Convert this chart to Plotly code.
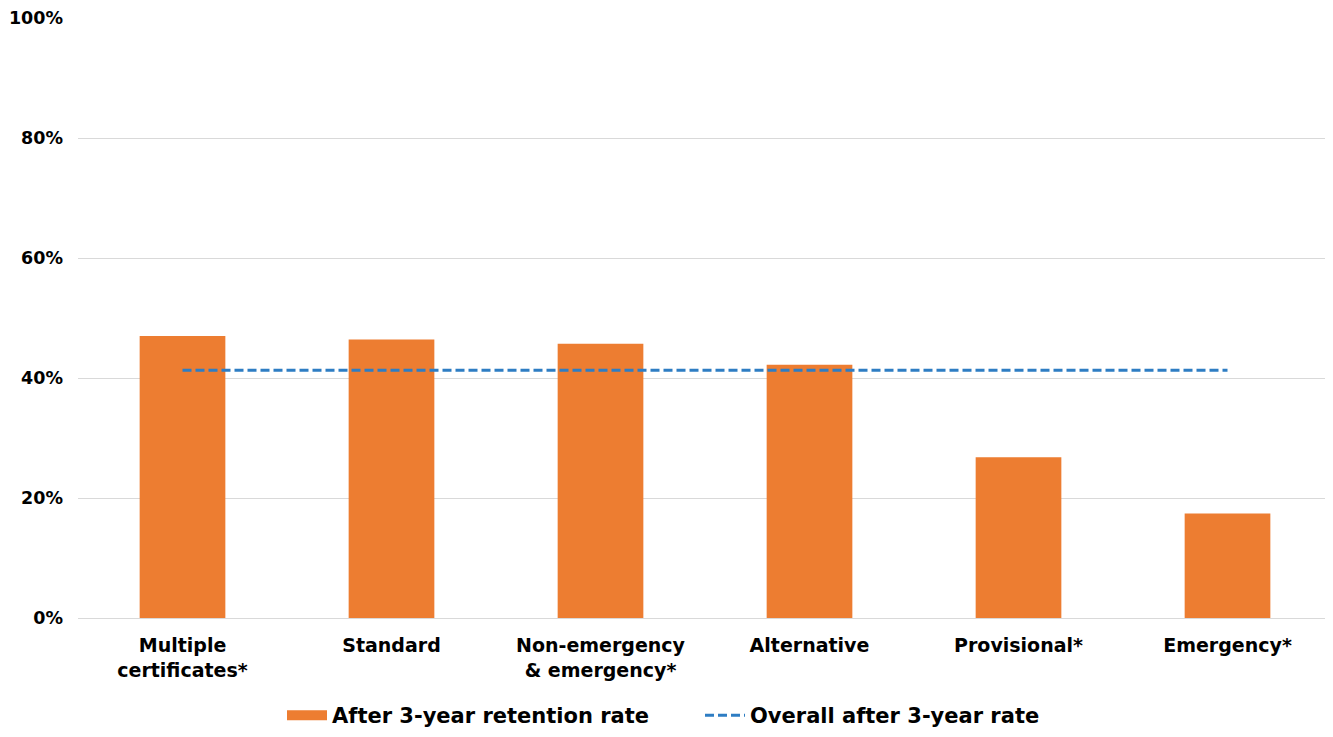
import plotly.graph_objects as go

# certificate types and retention rates
categories = ["Multiple<br>certificates*", "Standard", "Non-emergency<br>& emergency*",
              "Alternative", "Provisional*", "Emergency*"]
retention = [0.47, 0.464, 0.457, 0.422, 0.268, 0.174]
overall = [0.413] * len(categories)

y_ticks = [0, 0.2, 0.4, 0.6, 0.8, 1.0]
y_tick_labels = ["0%", "20%", "40%", "60%", "80%", "100%"]

bar_color = "#ED7D31"
line_color = "#2E7DC3"
font_name = "DejaVu Sans"

# page body adds an 8px margin, so the figure is 16px smaller than the window
W, H = 1317, 721

fig = go.Figure()

fig.add_trace(go.Bar(x=categories, y=retention, showlegend=False,
                     marker=dict(color=bar_color, line=dict(width=0))))

# legend entry for the bars, drawn as a wide swatch like the original
fig.add_trace(go.Scatter(x=[None], y=[None], mode="lines",
                         name="<b>After 3-year retention rate</b>",
                         line=dict(color=bar_color, width=14)))

fig.add_trace(go.Scatter(x=categories, y=overall, mode="lines",
                         name="<b>Overall after 3-year rate</b>",
                         line=dict(color=line_color, width=3, dash="9px,4px")))

fig.update_layout(width=W, height=H,
                  margin=dict(l=70, r=0, t=10, b=111, autoexpand=False),
                  plot_bgcolor="white", paper_bgcolor="white",
                  bargap=0.59,
                  font=dict(family=font_name, size=19, color="black"),
                  legend=dict(orientation="h", x=(274 - 70) / (W - 70), xanchor="left",
                              y=-0.1283, yanchor="top",
                              font=dict(size=21, color="black"),
                              itemwidth=40, traceorder="normal",
                              entrywidth=363, entrywidthmode="pixels"),
                  xaxis=dict(tickfont=dict(size=19), showline=False,
                             range=[-0.5, -0.5 + (W - 70) / 209.0],
                             ticks="", ticklabelstandoff=14, automargin=False),
                  yaxis=dict(range=[0, 1], tickvals=y_ticks,
                             ticktext=["<b>%s</b>" % t for t in y_tick_labels],
                             showgrid=True, gridcolor="#D9D9D9", gridwidth=1,
                             zeroline=True, zerolinecolor="#D9D9D9", zerolinewidth=1,
                             tickfont=dict(size=17.5), ticklabelstandoff=14,
                             ticklabeloverflow="allow", automargin=False))

fig.update_xaxes(ticktext=["<b>%s</b>" % c for c in categories], tickvals=categories)

fig.write_html("out.html")
